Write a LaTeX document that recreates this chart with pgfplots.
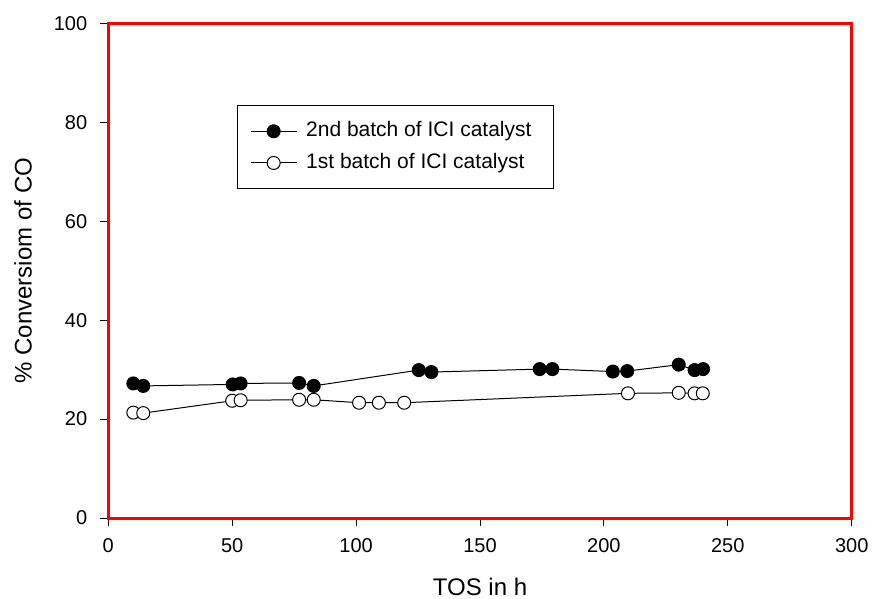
\documentclass[border=0pt]{standalone}
\usepackage{pgfplots}
\pgfplotsset{compat=1.18}
\usepackage{fontspec}
\setmainfont{Liberation Sans}
\begin{document}
\begin{tikzpicture}
\begin{axis}[
  scale only axis,
  width=371.7pt, height=247.35pt,
  xmin=0, xmax=300, ymin=0, ymax=100,
  xtick={0,50,100,150,200,250,300},
  ytick={0,20,40,60,80,100},
  axis line style={red, line width=1.5pt},
  tick style={black, line width=0.5pt},
  major tick length=4pt,
  tick align=outside,
  xtick pos=left, ytick pos=left,
  /pgf/number format/assume math mode=true,
  tick label style={font=\fontsize{10}{12}\selectfont},
  yticklabel style={xshift=-3pt},
  xticklabel style={yshift=-2.5pt},
  label style={font=\fontsize{12}{14}\selectfont},
  xlabel={TOS in h},
  ylabel={\% Conversiom of CO},
  xlabel style={at={(axis description cs:0.5,0)}, anchor=center, yshift=-34.5pt},
  ylabel style={at={(axis description cs:-0.1147,0.5)}, anchor=center},
  legend style={at={(axis description cs:0.1727,0.8349)}, anchor=north west,
    draw=black, line width=0.5pt, fill=white,
    font=\fontsize{10.5}{12}\selectfont,
    inner xsep=6.5pt, inner ysep=6.65pt, row sep=3.35pt,
    nodes={inner sep=1pt, text height=8pt, text depth=2.5pt},
    /tikz/every odd column/.append style={column sep=3.5pt}},
  legend cell align=left,
  legend image code/.code={\draw[mark repeat=2, mark phase=2, #1] plot coordinates {(0pt,0pt) (11.5pt,0pt) (23pt,0pt)};},
]
\addplot[black, line width=0.5pt, mark=*, mark size=3.25pt, mark options={fill=black, draw=black, line width=0.5pt}]
coordinates {(10.1,27.2) (14.1,26.7) (50.2,27.0) (53.4,27.2) (77.0,27.3) (82.9,26.7) (125.3,29.9) (130.4,29.5) (174.1,30.1) (179.2,30.1) (203.6,29.6) (209.4,29.7) (230.2,31.0) (236.6,29.9) (240.0,30.1)};
\addlegendentry{2nd batch of ICI catalyst\rule{3.5pt}{0pt}}
\addplot[black, line width=0.5pt, mark=*, mark size=3.25pt, mark options={fill=white, draw=black, line width=0.5pt}]
coordinates {(10.1,21.3) (14.1,21.2) (50.0,23.7) (53.4,23.8) (77.0,23.9) (82.9,23.9) (101.2,23.3) (109.2,23.3) (119.4,23.3) (209.7,25.2) (230.2,25.3) (236.6,25.2) (239.9,25.2)};
\addlegendentry{1st batch of ICI catalyst}
\end{axis}
\pgfresetboundingbox
\path ([shift={(-54.15pt,-40.5pt)}]current axis.south west) rectangle ([shift={(10.15pt,11.65pt)}]current axis.north east);
\end{tikzpicture}
\end{document}
